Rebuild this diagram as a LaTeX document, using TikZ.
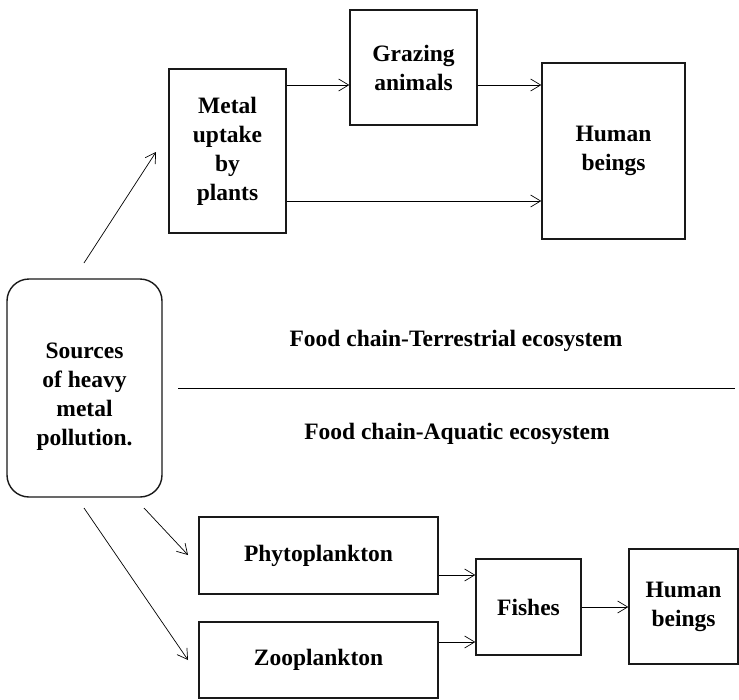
\documentclass[tikz,border=0pt]{standalone}
\usepackage{fontspec}
\setmainfont{Liberation Serif}
\usetikzlibrary{arrows.meta}
\begin{document}
\begin{tikzpicture}[x=1pt,y=-1pt,
  box/.style={draw=black!90,line width=1.4pt,inner sep=0pt,align=center,
    font=\bfseries\fontsize{23.5}{29}\selectfont},
  lbl/.style={inner sep=0pt,align=center,font=\bfseries\fontsize{23.5}{29}\selectfont},
  arr/.style={line width=0.7pt,-{Straight Barb[length=10pt,width=12pt,line width=0.7pt]}}]
\useasboundingbox (0,0) rectangle (739,699);
% top (terrestrial) chain
\node[box,minimum width=117pt,minimum height=164pt] (metal) at (227.5,151) {Metal\\uptake\\by\\plants};
\node[box,minimum width=127pt,minimum height=115pt] (graz) at (413.5,67.5) {Grazing\\animals};
\node[box,minimum width=143pt,minimum height=176pt] (hum1) at (613.5,151) {Human\\beings};
% sources box
\node[draw=black!90,line width=1.4pt,rounded corners=22pt,minimum width=155pt,minimum height=218pt,inner sep=0pt] (src) at (84.5,388) {};
\node[lbl] (srctxt) at (84.5,397) {Sources\\of heavy\\metal\\pollution.};
% labels and divider
\node[lbl] (terr) at (456,341) {Food chain-Terrestrial ecosystem};
\node[lbl] (aqua) at (457,434) {Food chain-Aquatic ecosystem};
\coordinate (divL) at (178,388);
\coordinate (divR) at (735,388);
\draw[line width=0.8pt] (divL) -- (divR);
% bottom (aquatic) chain
\node[box,minimum width=239pt,minimum height=77pt] (phyto) at (318.5,555.5) {Phytoplankton};
\node[box,minimum width=239pt,minimum height=76pt] (zoo) at (318.5,660) {Zooplankton};
\node[box,minimum width=105pt,minimum height=96pt] (fish) at (528.5,607) {Fishes};
\node[box,minimum width=109pt,minimum height=115pt] (hum2) at (683.5,606.5) {Human\\beings};
% helper coordinates
\coordinate (y85) at (0,85);
\coordinate (y201) at (0,201);
\coordinate (y575) at (0,575);
\coordinate (y642) at (0,642);
\coordinate (y607) at (0,607);
\coordinate (s1) at (84,263);
\coordinate (t1) at (156,152);
\coordinate (s2) at (144,508);
\coordinate (t2) at (188,555);
\coordinate (s3) at (84,508);
\coordinate (t3) at (188,660);
% connectors
\draw[arr] (s1) -- (t1);
\draw[arr] (metal.east |- y85) -- (graz.west |- y85);
\draw[arr] (graz.east |- y85) -- (hum1.west |- y85);
\draw[arr] (metal.east |- y201) -- (hum1.west |- y201);
\draw[arr] (s2) -- (t2);
\draw[arr] (s3) -- (t3);
\draw[arr] (phyto.east |- y575) -- (fish.west |- y575);
\draw[arr] (zoo.east |- y642) -- (fish.west |- y642);
\draw[arr] (fish.east |- y607) -- (hum2.west |- y607);
\end{tikzpicture}
\end{document}
